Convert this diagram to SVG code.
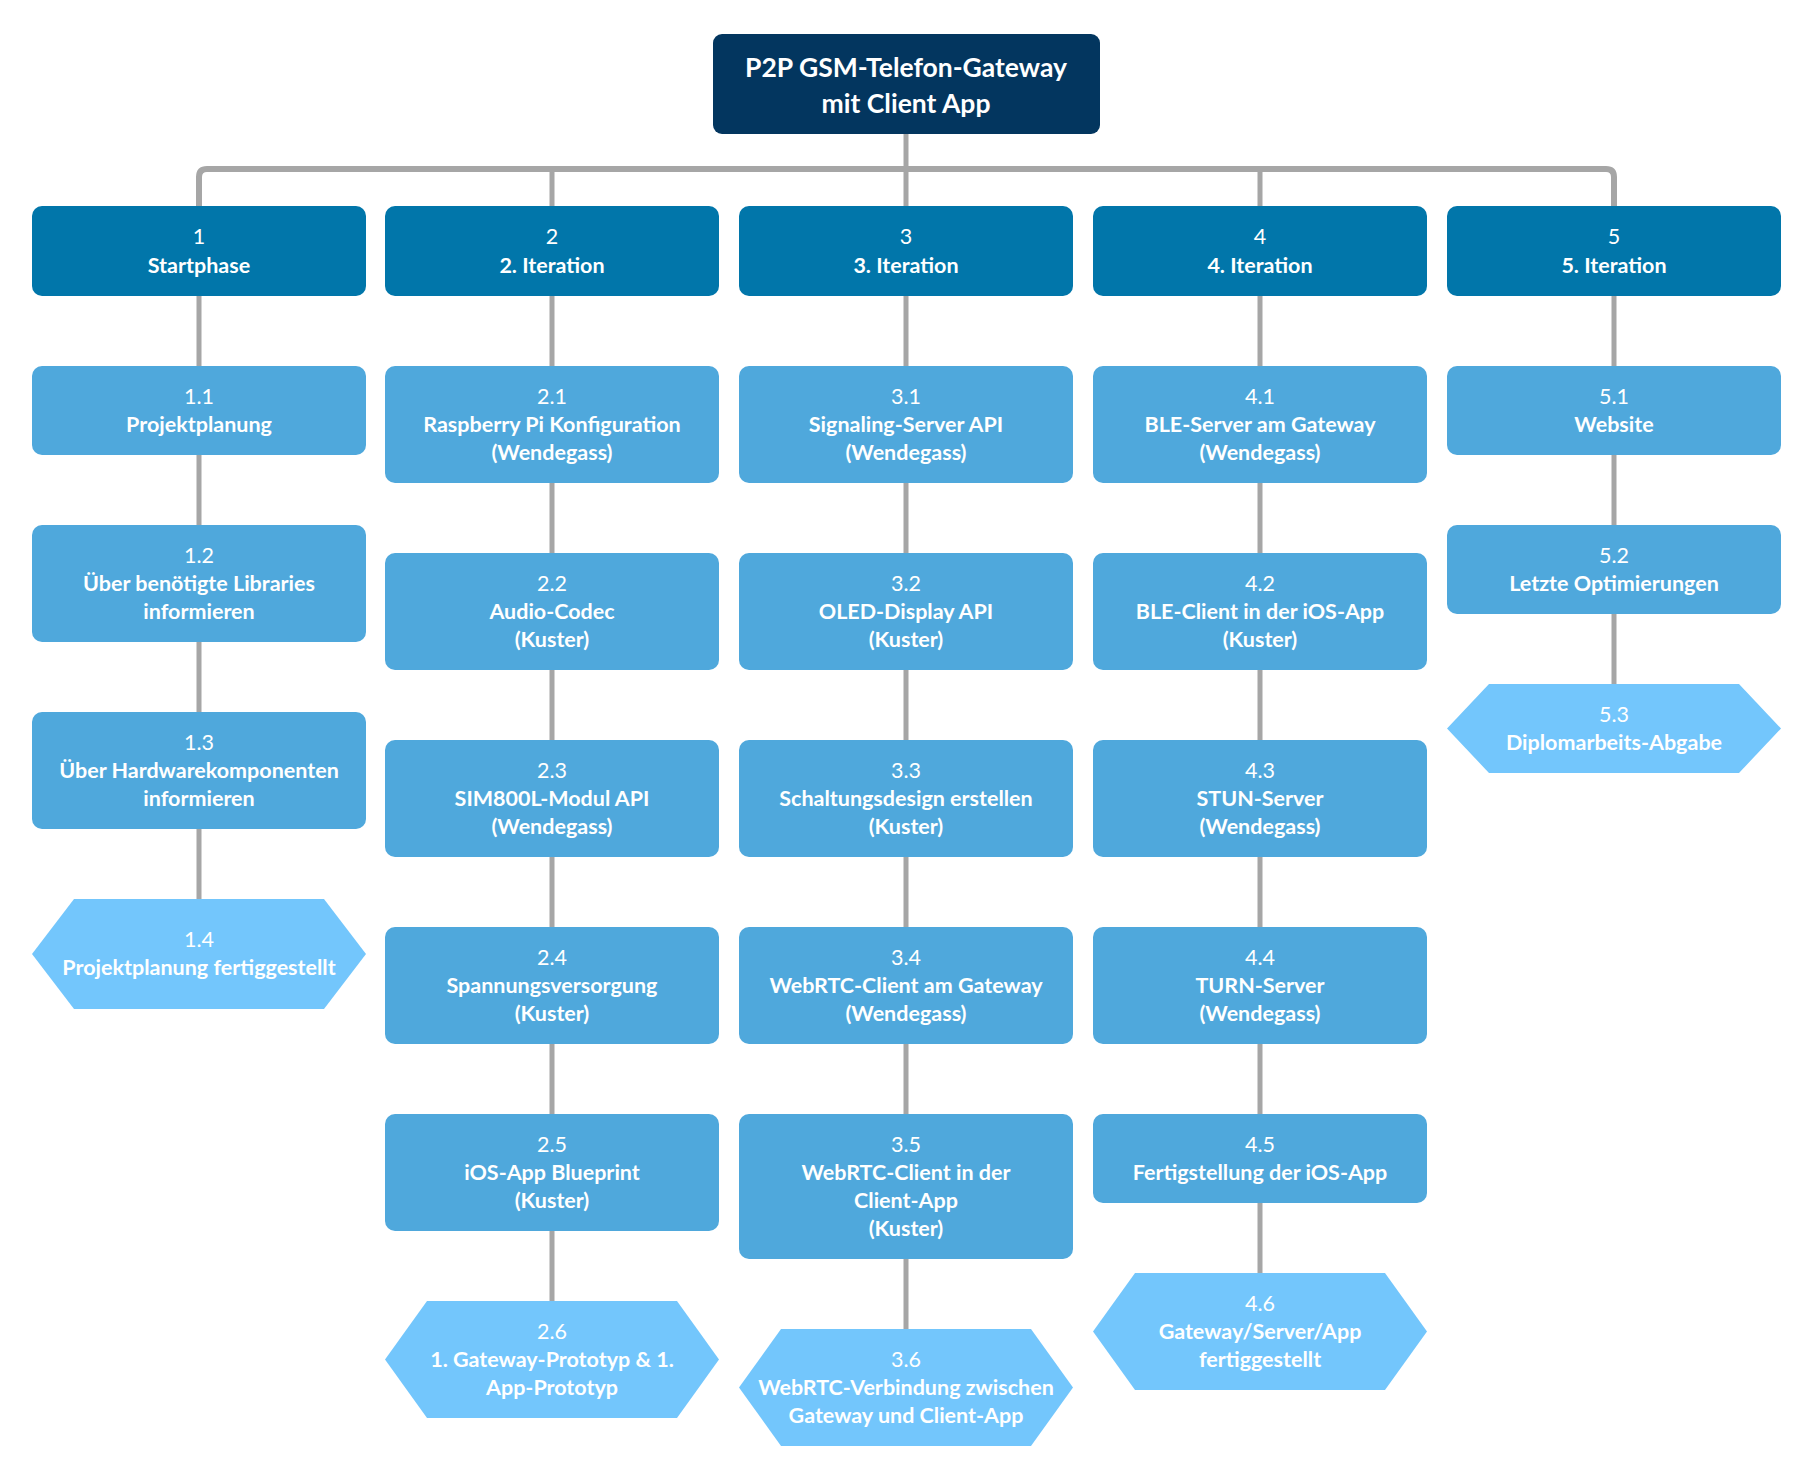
<svg xmlns="http://www.w3.org/2000/svg" width="1814" height="1478" viewBox="0 0 1814 1478">
<style>
.bg{fill:#ffffff}
.root{fill:#03365F}
.l1{fill:#0176AA}
.l2{fill:#4FA8DC}
.ms{fill:#73C6FC}
.con{fill:none;stroke:#A6A6A6;stroke-width:5}
.bus{fill:none;stroke:#A6A6A6;stroke-width:6}
text{font-family:Lato,"Open Sans","Liberation Sans",sans-serif;fill:#ffffff;text-anchor:middle}
.n{font-size:21.5px;font-weight:400}
.t{font-size:21.5px;font-weight:700}
.rt{font-size:26.5px;font-weight:700}
</style>
<rect class="bg" x="0" y="0" width="1814" height="1478"/>
<g id="connectors">
<path class="con" d="M906,134V169"/>
<path class="bus" d="M199,206V177Q199,169 207,169H1606Q1614,169 1614,177V206"/>
<path class="con" d="M552,169V206M906,169V206M1260,169V206"/>
<path class="con" d="M199,296V366M199,455V525M199,642V712M199,829V899"/>
<path class="con" d="M552,296V366M552,483V553M552,670V740M552,857V927M552,1044V1114M552,1231V1301"/>
<path class="con" d="M906,296V366M906,483V553M906,670V740M906,857V927M906,1044V1114M906,1259V1329"/>
<path class="con" d="M1260,296V366M1260,483V553M1260,670V740M1260,857V927M1260,1044V1114M1260,1203V1273"/>
<path class="con" d="M1614,296V366M1614,455V525M1614,614V684"/>
</g>
<g id="root"><rect class="root" x="713" y="34" width="387" height="100" rx="9"/>
<text class="rt" x="906" y="77">P2P GSM-Telefon-Gateway</text><text class="rt" x="906" y="113">mit Client App</text></g>

<g id="n1"><rect class="l1" x="32" y="206" width="334" height="90" rx="10"/><text class="n" x="199" y="244">1</text><text class="t" x="199" y="273">Startphase</text></g>
<g id="n2"><rect class="l1" x="385" y="206" width="334" height="90" rx="10"/><text class="n" x="552" y="244">2</text><text class="t" x="552" y="273">2. Iteration</text></g>
<g id="n3"><rect class="l1" x="739" y="206" width="334" height="90" rx="10"/><text class="n" x="906" y="244">3</text><text class="t" x="906" y="273">3. Iteration</text></g>
<g id="n4"><rect class="l1" x="1093" y="206" width="334" height="90" rx="10"/><text class="n" x="1260" y="244">4</text><text class="t" x="1260" y="273">4. Iteration</text></g>
<g id="n5"><rect class="l1" x="1447" y="206" width="334" height="90" rx="10"/><text class="n" x="1614" y="244">5</text><text class="t" x="1614" y="273">5. Iteration</text></g>

<g id="n1_1"><rect class="l2" x="32" y="366" width="334" height="89" rx="10"/><text class="n" x="199" y="404">1.1</text><text class="t" x="199" y="432">Projektplanung</text></g>
<g id="n1_2"><rect class="l2" x="32" y="525" width="334" height="117" rx="10"/><text class="n" x="199" y="563">1.2</text><text class="t" x="199" y="591">Über benötigte Libraries</text><text class="t" x="199" y="619">informieren</text></g>
<g id="n1_3"><rect class="l2" x="32" y="712" width="334" height="117" rx="10"/><text class="n" x="199" y="750">1.3</text><text class="t" x="199" y="778">Über Hardwarekomponenten</text><text class="t" x="199" y="806">informieren</text></g>
<g id="n1_4"><polygon class="ms" points="32,954 74,899 324,899 366,954 324,1009 74,1009"/><text class="n" x="199" y="947">1.4</text><text class="t" x="199" y="975">Projektplanung fertiggestellt</text></g>

<g id="n2_1"><rect class="l2" x="385" y="366" width="334" height="117" rx="10"/><text class="n" x="552" y="404">2.1</text><text class="t" x="552" y="432">Raspberry Pi Konfiguration</text><text class="t" x="552" y="460">(Wendegass)</text></g>
<g id="n2_2"><rect class="l2" x="385" y="553" width="334" height="117" rx="10"/><text class="n" x="552" y="591">2.2</text><text class="t" x="552" y="619">Audio-Codec</text><text class="t" x="552" y="647">(Kuster)</text></g>
<g id="n2_3"><rect class="l2" x="385" y="740" width="334" height="117" rx="10"/><text class="n" x="552" y="778">2.3</text><text class="t" x="552" y="806">SIM800L-Modul API</text><text class="t" x="552" y="834">(Wendegass)</text></g>
<g id="n2_4"><rect class="l2" x="385" y="927" width="334" height="117" rx="10"/><text class="n" x="552" y="965">2.4</text><text class="t" x="552" y="993">Spannungsversorgung</text><text class="t" x="552" y="1021">(Kuster)</text></g>
<g id="n2_5"><rect class="l2" x="385" y="1114" width="334" height="117" rx="10"/><text class="n" x="552" y="1152">2.5</text><text class="t" x="552" y="1180">iOS-App Blueprint</text><text class="t" x="552" y="1208">(Kuster)</text></g>
<g id="n2_6"><polygon class="ms" points="385,1359.5 427,1301 677,1301 719,1359.5 677,1418 427,1418"/><text class="n" x="552" y="1339">2.6</text><text class="t" x="552" y="1367">1. Gateway-Prototyp &amp; 1.</text><text class="t" x="552" y="1395">App-Prototyp</text></g>

<g id="n3_1"><rect class="l2" x="739" y="366" width="334" height="117" rx="10"/><text class="n" x="906" y="404">3.1</text><text class="t" x="906" y="432">Signaling-Server API</text><text class="t" x="906" y="460">(Wendegass)</text></g>
<g id="n3_2"><rect class="l2" x="739" y="553" width="334" height="117" rx="10"/><text class="n" x="906" y="591">3.2</text><text class="t" x="906" y="619">OLED-Display API</text><text class="t" x="906" y="647">(Kuster)</text></g>
<g id="n3_3"><rect class="l2" x="739" y="740" width="334" height="117" rx="10"/><text class="n" x="906" y="778">3.3</text><text class="t" x="906" y="806">Schaltungsdesign erstellen</text><text class="t" x="906" y="834">(Kuster)</text></g>
<g id="n3_4"><rect class="l2" x="739" y="927" width="334" height="117" rx="10"/><text class="n" x="906" y="965">3.4</text><text class="t" x="906" y="993">WebRTC-Client am Gateway</text><text class="t" x="906" y="1021">(Wendegass)</text></g>
<g id="n3_5"><rect class="l2" x="739" y="1114" width="334" height="145" rx="10"/><text class="n" x="906" y="1152">3.5</text><text class="t" x="906" y="1180">WebRTC-Client in der</text><text class="t" x="906" y="1208">Client-App</text><text class="t" x="906" y="1236">(Kuster)</text></g>
<g id="n3_6"><polygon class="ms" points="739,1387.5 781,1329 1031,1329 1073,1387.5 1031,1446 781,1446"/><text class="n" x="906" y="1367">3.6</text><text class="t" x="906" y="1395">WebRTC-Verbindung zwischen</text><text class="t" x="906" y="1423">Gateway und Client-App</text></g>

<g id="n4_1"><rect class="l2" x="1093" y="366" width="334" height="117" rx="10"/><text class="n" x="1260" y="404">4.1</text><text class="t" x="1260" y="432">BLE-Server am Gateway</text><text class="t" x="1260" y="460">(Wendegass)</text></g>
<g id="n4_2"><rect class="l2" x="1093" y="553" width="334" height="117" rx="10"/><text class="n" x="1260" y="591">4.2</text><text class="t" x="1260" y="619">BLE-Client in der iOS-App</text><text class="t" x="1260" y="647">(Kuster)</text></g>
<g id="n4_3"><rect class="l2" x="1093" y="740" width="334" height="117" rx="10"/><text class="n" x="1260" y="778">4.3</text><text class="t" x="1260" y="806">STUN-Server</text><text class="t" x="1260" y="834">(Wendegass)</text></g>
<g id="n4_4"><rect class="l2" x="1093" y="927" width="334" height="117" rx="10"/><text class="n" x="1260" y="965">4.4</text><text class="t" x="1260" y="993">TURN-Server</text><text class="t" x="1260" y="1021">(Wendegass)</text></g>
<g id="n4_5"><rect class="l2" x="1093" y="1114" width="334" height="89" rx="10"/><text class="n" x="1260" y="1152">4.5</text><text class="t" x="1260" y="1180">Fertigstellung der iOS-App</text></g>
<g id="n4_6"><polygon class="ms" points="1093,1331.5 1135,1273 1385,1273 1427,1331.5 1385,1390 1135,1390"/><text class="n" x="1260" y="1311">4.6</text><text class="t" x="1260" y="1339">Gateway/Server/App</text><text class="t" x="1260" y="1367">fertiggestellt</text></g>

<g id="n5_1"><rect class="l2" x="1447" y="366" width="334" height="89" rx="10"/><text class="n" x="1614" y="404">5.1</text><text class="t" x="1614" y="432">Website</text></g>
<g id="n5_2"><rect class="l2" x="1447" y="525" width="334" height="89" rx="10"/><text class="n" x="1614" y="563">5.2</text><text class="t" x="1614" y="591">Letzte Optimierungen</text></g>
<g id="n5_3"><polygon class="ms" points="1447,728.5 1489,684 1739,684 1781,728.5 1739,773 1489,773"/><text class="n" x="1614" y="722">5.3</text><text class="t" x="1614" y="750">Diplomarbeits-Abgabe</text></g>
</svg>
